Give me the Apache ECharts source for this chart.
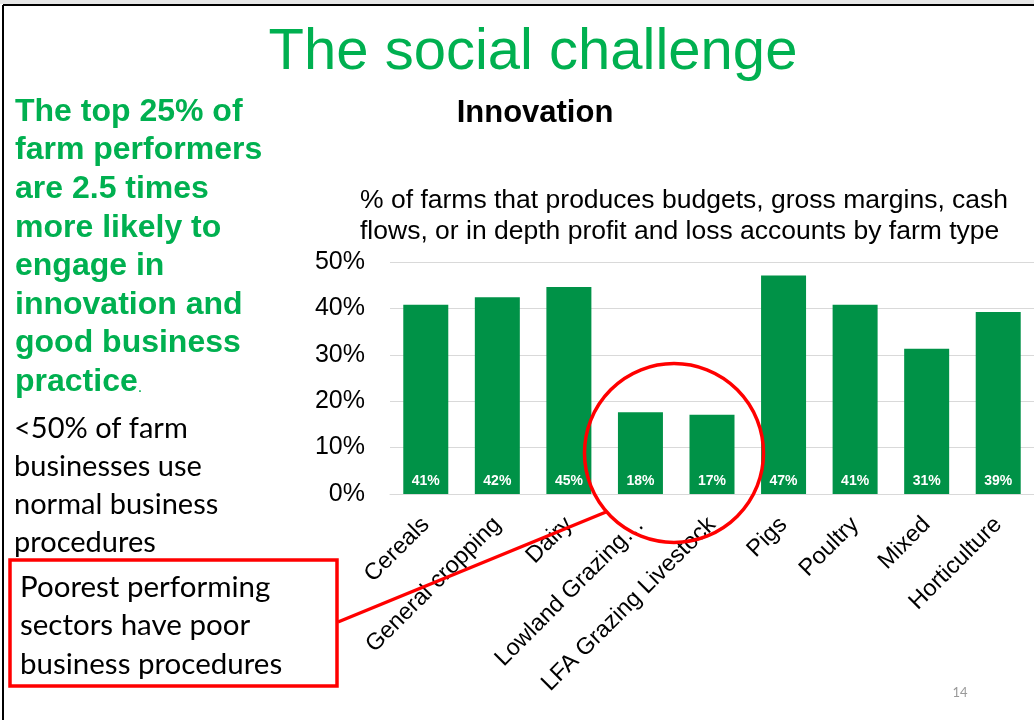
<!DOCTYPE html>
<html><head><meta charset="utf-8">
<script src="https://cdn.jsdelivr.net/npm/echarts@6/dist/echarts.min.js"></script>
<style>html,body{margin:0;padding:0;background:#fff}#c{width:1034px;height:720px}</style>
</head><body><div id="c"></div>
<script>
const categories = ['Cereals','General cropping','Dairy','Lowland Grazing Livestock','LFA Grazing Livestock','Pigs','Poultry','Mixed','Horticulture'];
const values = [40.8, 42.4, 44.6, 17.6, 17.1, 47.1, 40.8, 31.3, 39.2];
const yMin = 0, yMax = 50, yStep = 10;
const slideTitle = 'The social challenge';
const chartTitle = 'Innovation';
const subtitleLines = ['% of farms that produces budgets, gross margins, cash', 'flows, or in depth profit and loss accounts by farm type'];
const greenLines = ['The top 25% of','farm performers','are 2.5 times','more likely to','engage in','innovation and','good business','practice'];
const blackLines = ['<50% of farm','businesses use','normal business','procedures'];
const boxLines = ['Poorest performing','sectors have poor','business procedures'];
const pageNum = '14';

const ARIAL = '"Liberation Sans", Arial, sans-serif';
const CAL = 'Lato, "Noto Sans", sans-serif';
const GREEN = '#00B050';
const RED = '#FF0000';

const chart = echarts.init(document.getElementById('c'), null, {renderer:'canvas'});

const graphics = [];
// slide border
graphics.push({type:'rect', shape:{x:0,y:0,width:1034,height:4}, style:{fill:'#e6e6e6'}, z:1});
graphics.push({type:'line', shape:{x1:3,y1:5,x2:1034,y2:5}, style:{stroke:'#000',lineWidth:2}, z:1});
graphics.push({type:'line', shape:{x1:3,y1:5,x2:3,y2:720}, style:{stroke:'#000',lineWidth:2}, z:1});
// slide title
graphics.push({type:'text', x:533, y:53, style:{text:slideTitle, font:'normal 58px '+ARIAL, fill:GREEN, align:'center', verticalAlign:'middle'}});
// chart title & subtitle
graphics.push({type:'text', x:535, y:113, style:{text:chartTitle, font:'bold 31px '+ARIAL, fill:'#000', align:'center', verticalAlign:'middle'}});
subtitleLines.forEach((t,i)=>graphics.push({type:'text', x:360, y:201+i*31, style:{text:t, font:'normal 26.5px '+ARIAL, fill:'#000', align:'left', verticalAlign:'middle'}}));
// green text
greenLines.forEach((t,i)=>{
  const y = 112 + i*38.6;
  if (i === greenLines.length-1) {
    graphics.push({type:'text', x:15, y:y, style:{text:'{b|'+t+'}{p|.}', fill:GREEN, rich:{b:{font:'bold 32px '+ARIAL, fill:GREEN}, p:{font:'normal 16px '+ARIAL, fill:GREEN, padding:[10,0,0,0]}}, align:'left', verticalAlign:'middle'}});
  } else {
    graphics.push({type:'text', x:15, y:y, style:{text:t, font:'bold 32px '+ARIAL, fill:GREEN, align:'left', verticalAlign:'middle'}});
  }
});
blackLines.forEach((t,i)=>graphics.push({type:'text', x:14, y:429+i*38, style:{text:t, font:'normal 29px '+CAL, fill:'#000', align:'left', verticalAlign:'middle'}}));
// red box
graphics.push({type:'rect', shape:{x:10,y:560,width:327,height:126}, style:{fill:'#fff', stroke:RED, lineWidth:3.5}, z:50});
boxLines.forEach((t,i)=>graphics.push({type:'text', x:20, y:587+i*38.5, style:{text:t, font:'normal 29.5px '+CAL, fill:'#000', align:'left', verticalAlign:'middle'}, z:51}));
// connector and circle
graphics.push({type:'line', shape:{x1:338,y1:622,x2:606,y2:512}, style:{stroke:RED, lineWidth:3.5}, z:100});
graphics.push({type:'circle', shape:{cx:674,cy:453,r:89.5}, style:{fill:'none', stroke:RED, lineWidth:3.5}, z:100});
// page number
graphics.push({type:'text', x:960, y:693, style:{text:pageNum, font:'normal 13px '+CAL, fill:'#999', align:'center', verticalAlign:'middle'}});

chart.setOption({
  animation:false,
  backgroundColor:'#fff',
  grid:{left:390, top:262, width:646, height:232, containLabel:false},
  xAxis:{type:'category', data:categories,
    axisLine:{show:true, lineStyle:{color:'#d9d9d9', width:1}},
    axisTick:{show:false},
    axisLabel:{rotate:45, interval:0, margin:27, color:'#000', fontFamily:ARIAL, fontSize:23.5,
      formatter:(v)=> v.length>21 ? v.slice(0,15)+'…' : v}
  },
  yAxis:{type:'value', min:yMin, max:yMax, interval:yStep,
    axisLine:{show:false}, axisTick:{show:false},
    splitLine:{lineStyle:{color:'#d9d9d9', width:1}},
    axisLabel:{formatter:'{value}%', color:'#000', fontFamily:ARIAL, fontSize:25, margin:25}
  },
  series:[{type:'bar', data:values, barWidth:45,
    itemStyle:{color:'#009247'},
    label:{show:true, position:'insideBottom', distance:6, color:'#fff', fontWeight:'bold', fontFamily:ARIAL, fontSize:14,
      formatter:(p)=>Math.round(p.value)+'%'}
  }],
  graphic:{elements:graphics}
});
</script></body></html>
